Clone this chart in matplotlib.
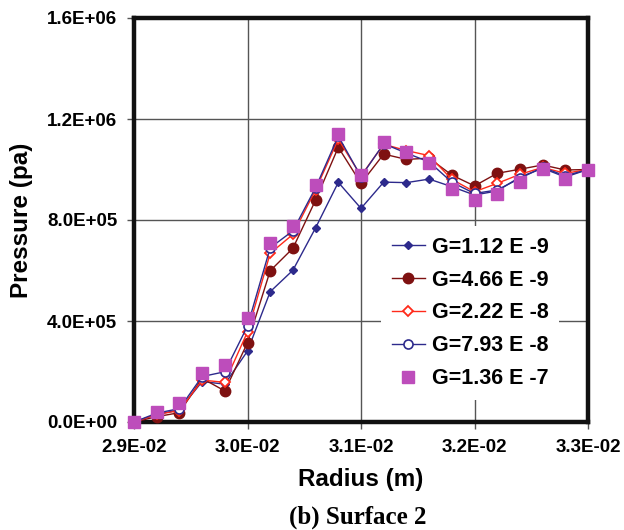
import matplotlib.pyplot as plt
from matplotlib.ticker import FuncFormatter

radius = [0.0290, 0.0292, 0.0294, 0.0296, 0.0298, 0.0300, 0.0302,
          0.0304, 0.0306, 0.0308, 0.0310, 0.0312, 0.0314, 0.0316,
          0.0318, 0.0320, 0.0322, 0.0324, 0.0326, 0.0328, 0.0330]

p_g1 = [0, 30e3, 48e3, 160e3, 150e3, 281e3, 516e3, 601e3, 769e3, 949e3, 846e3,
        950e3, 948e3, 962e3, 932e3, 899e3, 915e3, 970e3, 1005e3, 970e3, 1000e3]
p_g2 = [0, 21e3, 37e3, 173e3, 123e3, 314e3, 599e3, 688e3, 879e3, 1088e3, 945e3,
        1061e3, 1040e3, 1045e3, 978e3, 935e3, 985e3, 1001e3, 1018e3, 998e3, 1000e3]
p_g3 = [0, 30e3, 45e3, 166e3, 157e3, 357e3, 668e3, 743e3, 920e3, 1120e3, 975e3,
        1100e3, 1075e3, 1055e3, 961e3, 912e3, 945e3, 981e3, 1008e3, 985e3, 1000e3]
p_g4 = [0, 35e3, 53e3, 180e3, 199e3, 380e3, 690e3, 757e3, 928e3, 1132e3, 972e3,
        1102e3, 1065e3, 1030e3, 950e3, 905e3, 919e3, 965e3, 1008e3, 975e3, 1000e3]
p_g5 = [0, 41e3, 74e3, 195e3, 226e3, 410e3, 708e3, 776e3, 938e3, 1139e3, 980e3,
        1107e3, 1070e3, 1027e3, 923e3, 879e3, 902e3, 952e3, 1002e3, 962e3, 1000e3]

labels = ['G=1.12 E -9', 'G=4.66 E -9', 'G=2.22 E -8', 'G=7.93 E -8', 'G=1.36 E -7']

plt.rcParams['font.family'] = ['Liberation Sans', 'DejaVu Sans']
plt.rcParams['font.weight'] = 'bold'

fig = plt.figure(figsize=(6.24, 5.30), dpi=100)
ax = fig.add_axes([134 / 624, 1 - 422 / 530, 454 / 624, 404 / 530])

navy = '#2D2A8C'
dred = '#7E1111'
red = '#FF2A1A'
pink = '#BD4DBB'

ax.plot(radius, p_g1, color=navy, lw=1, marker='D', ms=4, mfc=navy, mec=navy,
        label=labels[0], clip_on=False, zorder=3)
ax.plot(radius, p_g2, color=dred, lw=1, marker='o', ms=7.5, mfc=dred, mec=dred,
        label=labels[1], clip_on=False, zorder=4)
ax.plot(radius, p_g3, color=red, lw=1, marker='D', ms=5.5, mfc='white', mec=red,
        mew=1.3, label=labels[2], clip_on=False, zorder=5)
ax.plot(radius, p_g4, color=navy, lw=1, marker='o', ms=6.5, mfc='white', mec=navy,
        mew=1.2, label=labels[3], clip_on=False, zorder=6)
ax.plot(radius, p_g5, ls='none', marker='s', ms=8, mfc=pink, mec=pink,
        label=labels[4], clip_on=False, zorder=7)

ax.set_xlim(0.029, 0.033)
ax.set_ylim(0, 1.6e6)
ax.set_xticks([0.029, 0.030, 0.031, 0.032, 0.033])
ax.set_yticks([0, 4e5, 8e5, 1.2e6, 1.6e6])
sci = FuncFormatter(lambda v, pos: f'{v:.1E}')
ax.xaxis.set_major_formatter(sci)
ax.yaxis.set_major_formatter(sci)
ax.tick_params(labelsize=13.5, length=5, width=1, color='#555555', pad=7)

ax.grid(True, color='#555555', lw=1)
ax.set_axisbelow(True)
for s in ax.spines.values():
    s.set_linewidth(3.2)
    s.set_color('#111111')

ax.set_xlabel('Radius (m)', fontsize=17.5, fontweight='bold', labelpad=9)
ax.set_ylabel('Pressure (pa)', fontsize=17.5, fontweight='bold', labelpad=10)

leg = ax.legend(loc='center', bbox_to_anchor=(470 / 624, 1 - 313 / 530),
                bbox_transform=fig.transFigure, fontsize=15.5, frameon=True,
                framealpha=1, facecolor='white', edgecolor='none', fancybox=False,
                handlelength=1.55, handletextpad=0.3, labelspacing=0.55,
                borderpad=0.5)
leg.set_zorder(10)

fig.text(358 / 624, 1 - 517 / 530, '(b) Surface 2', ha='center', va='center',
         fontsize=18, fontweight='bold', family='Liberation Serif')

fig.savefig('out.png', dpi=100)
